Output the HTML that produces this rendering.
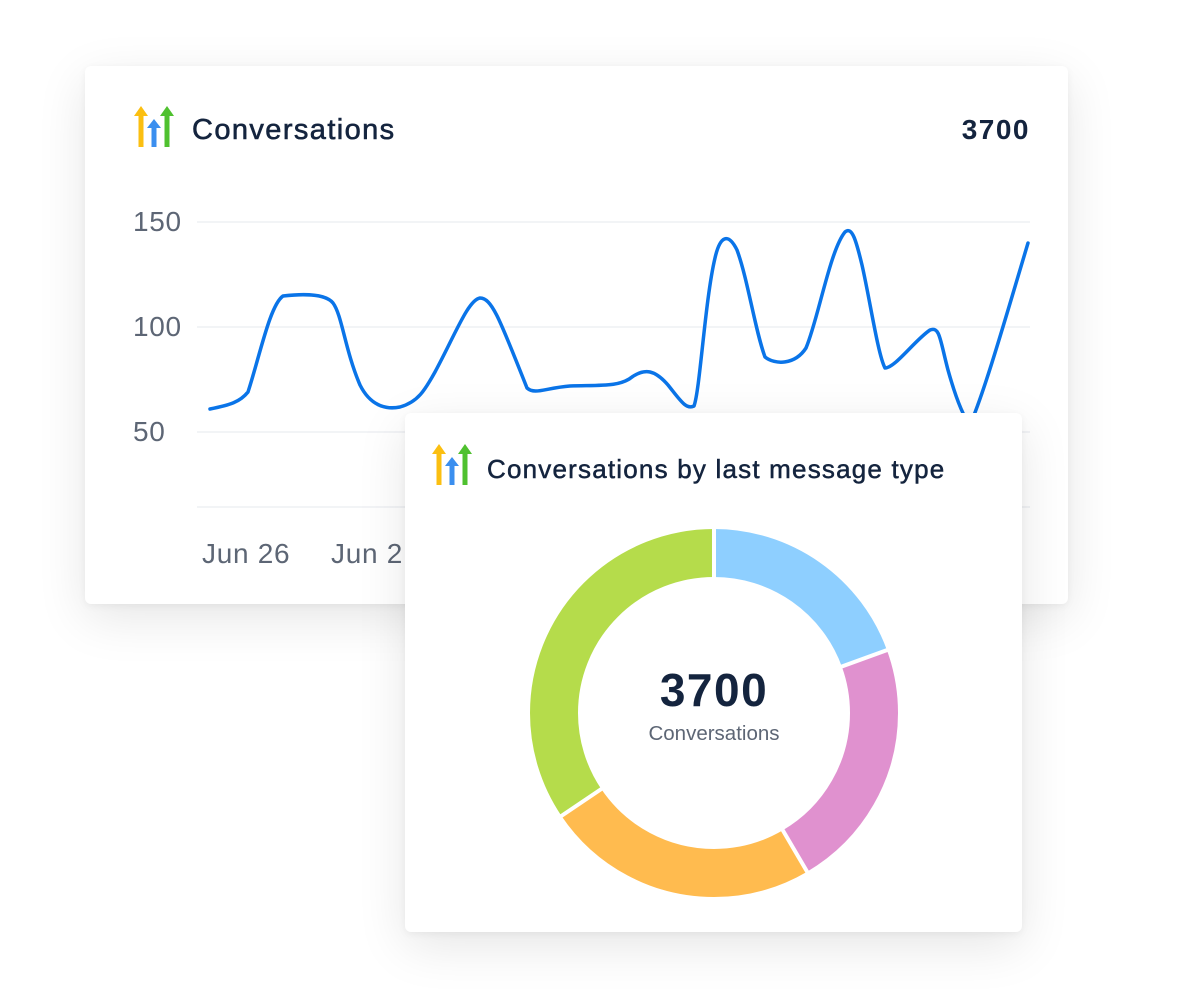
<!DOCTYPE html>
<html><head><meta charset="utf-8"><style>
html,body{margin:0;padding:0;background:#fff;width:1200px;height:1000px;overflow:hidden;font-family:"Liberation Sans",sans-serif;}
.card{position:absolute;background:#fff;border-radius:6px;box-shadow:0 14px 50px rgba(0,0,0,0.10),0 2px 8px rgba(0,0,0,0.05);}
</style></head><body>
<div class="card" style="left:85px;top:66px;width:983px;height:538px;"></div>
<svg style="position:absolute;left:0;top:0" width="1200" height="1000">
<g transform="translate(134,106)">
<path d="M7 0 L14 10 L9.5 10 L9.5 41 L4.5 41 L4.5 10 L0 10Z" fill="#fbbf11"/>
<path d="M20 13 L27 22 L22.5 22 L22.5 41 L17.5 41 L17.5 22 L13 22Z" fill="#3b8fef"/>
<path d="M33 0 L40 10 L35.5 10 L35.5 41 L30.5 41 L30.5 10 L26 10Z" fill="#4fc12f"/>
</g>
<text x="192" y="139" font-size="29" letter-spacing="1.4" fill="#14243e" stroke="#14243e" stroke-width="0.6" font-family="Liberation Sans">Conversations</text>
<text x="1030" y="139" font-size="28" letter-spacing="1.5" font-weight="bold" fill="#14243e" text-anchor="end" font-family="Liberation Sans">3700</text>
<g stroke="#eef0f3" stroke-width="1.5">
<line x1="197" y1="222" x2="1030" y2="222"/><line x1="197" y1="327" x2="1030" y2="327"/><line x1="197" y1="432" x2="1030" y2="432"/><line x1="197" y1="507" x2="1030" y2="507"/>
</g>
<g font-size="28" letter-spacing="0.7" fill="#5d6675" font-family="Liberation Sans">
<text x="133" y="231">150</text><text x="133" y="336">100</text><text x="133" y="441">50</text>
<text x="202" y="563">Jun 26</text><text x="331" y="563">Jun 2</text>
</g>
<path fill="none" stroke="#0a74e8" stroke-width="3.5" stroke-linejoin="round" stroke-linecap="round"
d="M210 409 C230 405 240 402 248 392 C260 355 270 305 283 296 C300 294 325 293 333 303 C342 315 345 350 360 385 C370 405 385 410 400 407 C418 402 425 390 435 372 C455 335 468 300 480 298 C492 298 500 320 527 388 C535 395 545 388 570 386 C600 385 620 387 632 377 C645 368 655 370 668 385 C680 400 686 410 694 406 C700 390 705 300 715 258 C720 236 728 232 737 250 C748 280 755 330 765 357 C775 365 795 365 806 348 C818 320 830 250 845 232 C852 226 856 240 862 265 C870 300 878 355 885 368 C895 368 915 340 930 330 C940 326 940 340 948 370 C955 395 962 415 970 425 C985 390 1005 320 1028 243"/>
</svg>
<div class="card" style="left:405px;top:413px;width:617px;height:519px;"></div>
<svg style="position:absolute;left:0;top:0" width="1200" height="1000">
<g transform="translate(432,444)">
<path d="M7 0 L14 10 L9.5 10 L9.5 41 L4.5 41 L4.5 10 L0 10Z" fill="#fbbf11"/>
<path d="M20 13 L27 22 L22.5 22 L22.5 41 L17.5 41 L17.5 22 L13 22Z" fill="#3b8fef"/>
<path d="M33 0 L40 10 L35.5 10 L35.5 41 L30.5 41 L30.5 10 L26 10Z" fill="#4fc12f"/>
</g>
<text x="487" y="478" font-size="26" letter-spacing="1.2" fill="#14243e" stroke="#14243e" stroke-width="0.5" font-family="Liberation Sans">Conversations by last message type</text>
<g transform="translate(714,713) rotate(-90)" fill="none" stroke-width="48">
<circle r="160" stroke="#8ecfff" stroke-dasharray="195.5 1100" stroke-dashoffset="0"/>
<circle r="160" stroke="#e091cf" stroke-dasharray="222.3 1100" stroke-dashoffset="-195.5"/>
<circle r="160" stroke="#ffbb4f" stroke-dasharray="241.3 1100" stroke-dashoffset="-417.8"/>
<circle r="160" stroke="#b5dc4b" stroke-dasharray="346.3 1100" stroke-dashoffset="-659.1"/>
</g>
<g transform="translate(714,713)" stroke="#fff" stroke-width="4">
<line x1="0" y1="0" x2="0" y2="-190"/>
<line x1="0" y1="0" x2="0" y2="-190" transform="rotate(70)"/>
<line x1="0" y1="0" x2="0" y2="-190" transform="rotate(149.6)"/>
<line x1="0" y1="0" x2="0" y2="-190" transform="rotate(236)"/>
</g>
<circle cx="714" cy="713" r="135" fill="#fff"/>
<text x="714" y="706" font-size="46" letter-spacing="1.5" font-weight="bold" fill="#14243e" text-anchor="middle" font-family="Liberation Sans">3700</text>
<text x="714" y="740" font-size="20.5" fill="#5d6675" text-anchor="middle" font-family="Liberation Sans">Conversations</text>
</svg>
</body></html>
